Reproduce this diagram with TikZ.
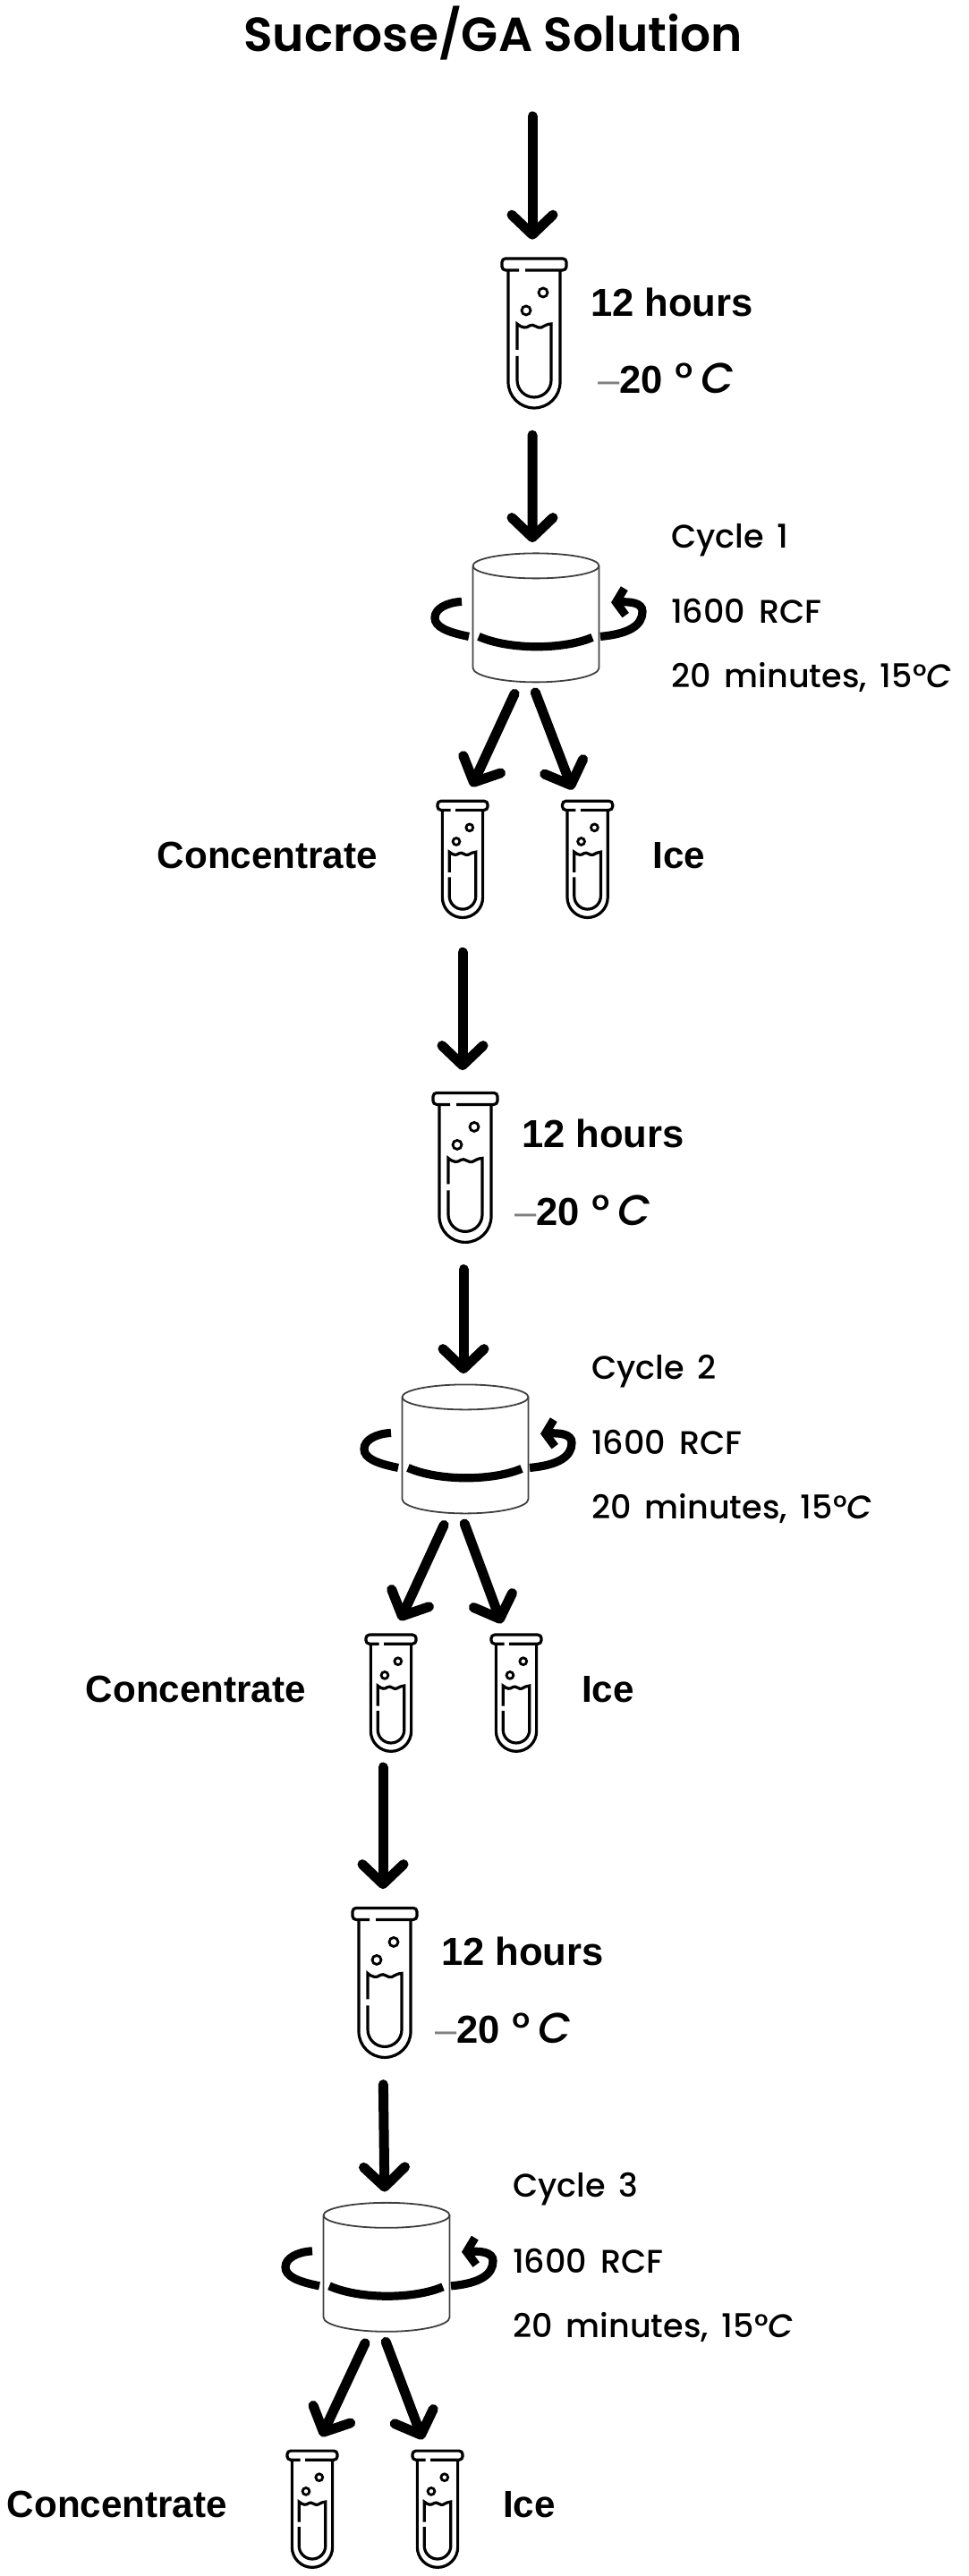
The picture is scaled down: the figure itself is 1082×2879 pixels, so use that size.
\documentclass[tikz,border=0pt]{standalone}
\usepackage{fontspec}
\usepackage{tikz}
\usetikzlibrary{positioning, arrows.meta}
\setmainfont{Liberation Sans}
\newfontfamily\comicfont[WordSpace=1.6]{Poppins Medium}
\newfontfamily\headfont{Poppins SemiBold}
\tikzset{
    tubeicon/.pic = {
        \draw[line width=.8mm, rounded corners=1mm] (-17,70) -- (-36,70) -- (-36,83) -- (36,83) -- (36,70) -- (-10,70);
        \draw[line width=.8mm] (-29,70) -- (-29,-55) arc (180:360:29) -- (29,70);
        \draw[line width=.8mm] (-19,-19) -- (-19,10) .. controls (-13,5) and (-9,5) .. (-5,8) .. controls (-1,11) and (4,4) .. (8,6) .. controls (12,8) and (15,10) .. (19,10) -- (19,-53) arc (0:-180:19) -- (-19,-26);
        \draw[line width=.7mm] (10,45) circle (5);
        \draw[line width=.7mm] (-9,25) circle (5);
    },
    spinicon/.pic = {
        \draw[line width=.45mm, black!75] (-70.5,58) arc (180:-180:70.5 and 14);
        \draw[line width=.45mm, black!75] (-70.5,58) -- (-70.5,-56) arc (180:360:70.5 and 16) -- (70.5,58);
        \draw[line width=2.3mm] (-64,-21) .. controls (-30,-36) and (30,-36) .. (63,-22);
        \draw[line width=2.3mm] (-75,-21) .. controls (-100,-16) and (-113,-10) .. (-113,0) .. controls (-113,10) and (-100,17) .. (-83,18);
        \draw[line width=2.3mm, -{Straight Barb[length=2.5mm,width=7.5mm]}] (72,-21) .. controls (105,-18) and (119,-8) .. (119,7) .. controls (119,17) and (105,18) .. (84,17);
    },
    smallicon/.style = {xscale=.78, yscale=.78},
    bigtube/.style = {minimum width=18.25mm, minimum height=42mm, inner sep=0},
    smalltube/.style = {minimum width=14.25mm, minimum height=32.5mm, inner sep=0},
    spinner/.style = {minimum width=35.25mm, minimum height=36mm, inner sep=0},
    flow/.style = {line width=2.75mm, line cap=round, -{Straight Barb[round,length=5.5mm,width=11.5mm]}},
    hand/.style = {inner sep=0, font=\fontsize{26}{30}\selectfont\comicfont},
    timetext/.style = {inner sep=0, font=\fontsize{31}{36}\selectfont\bfseries},
    sidetext/.style = {inner sep=0, font=\fontsize{30}{36}\selectfont\bfseries}
}
\newcommand{\coldtext}{{\mdseries\color{black!50}--}20\hspace{3.5mm}{\mdseries\fontsize{34}{36}\selectfont\comicfont °\,\itshape C}}
\begin{document}
\begin{tikzpicture}[x=.25mm, y=.25mm]
    \useasboundingbox (0,0) rectangle (1082,2879);
    \node[inner sep=0, font=\fontsize{38}{44}\selectfont\headfont] (title) at (551,2842) {Sucrose/GA Solution};
    % cycle 1
    \node[bigtube] (t1) [below of=title, node distance=83.75mm, xshift=11.5mm] {};
    \node[spinner] (c1) [below of=t1, node distance=79.6mm, xshift=.5mm] {};
    \node[smalltube] (a1) [below of=c1, node distance=67.4mm, xshift=-20.5mm] {};
    \node[smalltube] (b1) [right of=a1, node distance=34.9mm] {};
    \path ([xshift=-.5mm, yshift=60.5mm]t1.center) coordinate (s1);
    \pic at (t1) {tubeicon};
    \pic at (c1) {spinicon};
    \pic[smallicon] at (a1) {tubeicon};
    \pic[smallicon] at (b1) {tubeicon};
    \node[timetext] (h1) [right=6.5mm of t1, yshift=8.5mm] {12 hours};
    \node[timetext] (k1) [right=8.5mm of t1, yshift=-12.75mm] {\coldtext};
    \node[hand] (n1) [right=20mm of c1, yshift=21.75mm] {Cycle 1};
    \node[hand] (r1) [right=20mm of c1, yshift=1.75mm] {1600 RCF};
    \node[hand] (m1) [right=20mm of c1, yshift=-16.75mm] {20 minutes, 15°\textit{C}};
    \node[sidetext] (p1) [left=16.5mm of a1, yshift=1mm] {Concentrate};
    \node[sidetext] (q1) [right=11mm of b1, yshift=1mm] {Ice};
    % cycle 2
    \node[bigtube] (t2) [below of=a1, node distance=86.1mm, xshift=.75mm] {};
    \node[spinner] (c2) [below of=t2, node distance=78.75mm] {};
    \node[smalltube] (a2) [below of=c2, node distance=68.1mm, xshift=-20.75mm] {};
    \node[smalltube] (b2) [right of=a2, node distance=35mm] {};
    \pic at (t2) {tubeicon};
    \pic at (c2) {spinicon};
    \pic[smallicon] at (a2) {tubeicon};
    \pic[smallicon] at (b2) {tubeicon};
    \node[timetext] (h2) [right=6.5mm of t2, yshift=9.25mm] {12 hours};
    \node[timetext] (k2) [right=4.5mm of t2, yshift=-12mm] {\coldtext};
    \node[hand] (n2) [right=17.5mm of c2, yshift=21.75mm] {Cycle 2};
    \node[hand] (r2) [right=17.5mm of c2, yshift=1.75mm] {1600 RCF};
    \node[hand] (m2) [right=17.5mm of c2, yshift=-16.75mm] {20 minutes, 15°\textit{C}};
    \node[sidetext] (p2) [left=16.5mm of a2, yshift=1mm] {Concentrate};
    \node[sidetext] (q2) [right=11mm of b2, yshift=1mm] {Ice};
    % cycle 3
    \node[bigtube] (t3) [below of=a2, node distance=80.9mm, xshift=-1.75mm] {};
    \node[spinner] (c3) [below of=t3, node distance=79.6mm, xshift=.5mm] {};
    \node[smalltube] (a3) [below of=c3, node distance=67.5mm, xshift=-20.75mm] {};
    \node[smalltube] (b3) [right of=a3, node distance=35mm] {};
    \pic at (t3) {tubeicon};
    \pic at (c3) {spinicon};
    \pic[smallicon] at (a3) {tubeicon};
    \pic[smallicon] at (b3) {tubeicon};
    \node[timetext] (h3) [right=6.5mm of t3, yshift=8.75mm] {12 hours};
    \node[timetext] (k3) [right=4.75mm of t3, yshift=-12.75mm] {\coldtext};
    \node[hand] (n3) [right=17.5mm of c3, yshift=21.75mm] {Cycle 3};
    \node[hand] (r3) [right=17.5mm of c3, yshift=1.75mm] {1600 RCF};
    \node[hand] (m3) [right=17.5mm of c3, yshift=-16.75mm] {20 minutes, 15°\textit{C}};
    \node[sidetext] (p3) [left=16.5mm of a3, yshift=1.25mm] {Concentrate};
    \node[sidetext] (q3) [right=11mm of b3, yshift=1.25mm] {Ice};
    % arrows
    \draw[flow, shorten >=5mm] (s1) -- (s1 |- t1.north);
    \draw[flow, shorten <=7.5mm, shorten >=3mm] ([xshift=-.5mm]t1.south) -- ([xshift=-1mm]c1.north);
    \draw[flow, shorten <=3.5mm, shorten >=4.25mm] ([xshift=-4.5mm]c1.south) -- ([xshift=.75mm]a1.north);
    \draw[flow, shorten <=3mm, shorten >=3.25mm] ([xshift=-1.25mm]c1.south) -- ([xshift=-3mm]b1.north);
    \draw[flow, shorten <=9.75mm, shorten >=6mm] (a1.south) -- (a1.south |- t2.north);
    \draw[flow, shorten <=7.5mm, shorten >=3mm] ([xshift=-.5mm]t2.south) -- ([xshift=-.5mm]c2.north);
    \draw[flow, shorten <=3.5mm, shorten >=4.25mm] ([xshift=-4.5mm]c2.south) -- ([xshift=.75mm]a2.north);
    \draw[flow, shorten <=3mm, shorten >=3.25mm] ([xshift=-1.25mm]c2.south) -- ([xshift=-3mm]b2.north);
    \draw[flow, shorten <=4.5mm, shorten >=5mm] ([xshift=-.5mm]a2.south -| t3) -- ([xshift=-.5mm]t3.north);
    \draw[flow, shorten <=7.5mm, shorten >=3mm] ([xshift=-.5mm]t3.south) -- ([xshift=-.5mm]c3.north);
    \draw[flow, shorten <=3.5mm, shorten >=4.25mm] ([xshift=-4.5mm]c3.south) -- ([xshift=.75mm]a3.north);
    \draw[flow, shorten <=3mm, shorten >=3.25mm] ([xshift=-1.25mm]c3.south) -- ([xshift=-3mm]b3.north);
\end{tikzpicture}
\end{document}
